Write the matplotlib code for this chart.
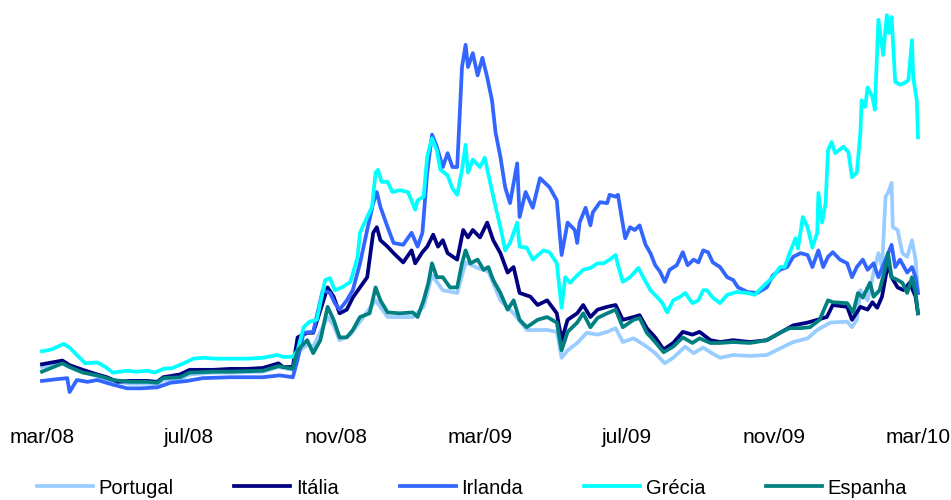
import numpy as np
import matplotlib
matplotlib.use("Agg")
import matplotlib.pyplot as plt

plt.rcParams["font.family"] = ["Liberation Sans", "DejaVu Sans"]

# Spreads (p.b.) por país; dias contados a partir de 1 de março de 2008
inicio = np.datetime64("2008-03-01")

portugal_dias = [0, 17, 23, 34, 46, 59, 73, 88, 96, 101,
                 115, 123, 143, 157, 184, 197, 209, 213, 221, 226,
                 238, 243, 248, 257, 265, 278, 288, 298, 309, 318,
                 325, 334, 346, 353, 363, 372, 382, 393, 404, 421,
                 429, 433, 438, 446, 454, 463, 471, 478, 484, 493,
                 504, 511, 519, 526, 536, 543, 551, 557, 565, 576,
                 590, 604, 618, 626, 638, 646, 657, 671, 675, 679,
                 682, 688, 693, 697, 700, 703, 705, 708, 709, 713,
                 717, 721, 725, 728, 730]
portugal = [41, 46, 42, 36, 31, 26, 23, 23, 22, 27,
            28, 33, 35, 35, 36, 41, 38, 57, 65, 63,
            95, 86, 70, 76, 90, 113, 95, 95, 95, 106,
            140, 124, 121, 154, 148, 144, 113, 99, 81, 81,
            79, 51, 59, 67, 78, 76, 79, 83, 68, 72,
            63, 56, 45, 51, 63, 56, 62, 57, 51, 54,
            53, 54, 63, 68, 72, 81, 89, 90, 84, 92,
            124, 113, 143, 164, 149, 225, 229, 240, 192, 189,
            164, 160, 178, 157, 121]

italia_dias = [0, 17, 23, 34, 46, 54, 63, 73, 88, 96,
               101, 115, 123, 143, 157, 171, 184, 197, 201, 209,
               213, 221, 226, 238, 243, 248, 254, 259, 265, 271,
               276, 279, 282, 288, 293, 301, 308, 311, 317, 321,
               326, 330, 334, 338, 346, 351, 355, 359, 365, 371,
               376, 382, 388, 393, 398, 407, 413, 421, 429, 433,
               438, 446, 451, 457, 463, 471, 478, 484, 493, 498,
               504, 511, 518, 526, 534, 542, 548, 557, 565, 576,
               590, 604, 615, 626, 638, 646, 654, 659, 671, 675,
               682, 688, 692, 696, 700, 705, 708, 713, 718, 723,
               728, 730]
italia = [44, 48, 43, 38, 33, 30, 25, 26, 26, 25,
          30, 33, 38, 38, 39, 39, 40, 45, 41, 41,
          73, 78, 78, 127, 117, 99, 103, 116, 127, 138,
          186, 192, 178, 171, 164, 154, 167, 153, 165, 171,
          184, 171, 178, 164, 157, 189, 181, 189, 181, 197,
          178, 164, 143, 149, 121, 117, 108, 113, 99, 70,
          92, 99, 108, 95, 103, 106, 108, 92, 95, 97,
          83, 73, 60, 67, 79, 76, 79, 70, 68, 70,
          68, 70, 78, 86, 89, 92, 95, 108, 106, 92,
          106, 103, 111, 105, 117, 153, 138, 127, 124, 132,
          117, 99]

irlanda_dias = [0, 13, 21, 23, 29, 38, 46, 59, 71, 82,
                96, 107, 121, 134, 157, 184, 198, 209, 213, 218,
                226, 234, 240, 244, 248, 254, 259, 265, 271, 276,
                279, 282, 288, 293, 301, 308, 313, 317, 321, 325,
                329, 334, 338, 342, 346, 350, 353, 355, 359, 363,
                367, 371, 375, 378, 382, 386, 390, 396, 398, 403,
                409, 415, 423, 429, 433, 438, 444, 446, 448, 453,
                457, 459, 465, 471, 473, 478, 480, 483, 486, 490,
                494, 498, 503, 507, 511, 515, 519, 523, 529, 534,
                538, 543, 547, 551, 555, 559, 565, 571, 576, 580,
                588, 596, 604, 609, 615, 621, 626, 632, 638, 642,
                647, 651, 655, 659, 665, 671, 675, 679, 684, 688,
                693, 697, 703, 708, 711, 715, 721, 725, 728, 730]
irlanda = [26, 28, 29, 14, 27, 25, 27, 22, 18, 18,
           19, 24, 26, 29, 30, 30, 32, 30, 49, 78,
           79, 124, 121, 110, 103, 113, 124, 153, 189, 218,
           230, 214, 192, 175, 173, 186, 171, 186, 251, 292,
           279, 257, 272, 257, 257, 365, 389, 365, 380, 356,
           375, 354, 329, 294, 268, 235, 218, 261, 203, 230,
           213, 245, 235, 221, 162, 197, 189, 175, 197, 213,
           194, 208, 219, 218, 227, 225, 227, 203, 180, 192,
           189, 194, 173, 164, 151, 144, 133, 146, 151, 165,
           151, 157, 154, 167, 165, 154, 149, 138, 135, 127,
           122, 121, 127, 140, 146, 149, 160, 164, 162, 149,
           167, 149, 160, 165, 157, 153, 138, 149, 157, 146,
           153, 138, 157, 173, 149, 157, 143, 149, 138, 121]

grecia_dias = [0, 8, 18, 23, 29, 36, 46, 53, 59, 71,
               79, 88, 94, 101, 109, 118, 126, 134, 146, 157,
               171, 184, 196, 201, 209, 213, 218, 223, 229, 236,
               240, 244, 250, 257, 263, 265, 271, 275, 278, 280,
               283, 288, 292, 298, 305, 311, 313, 318, 321, 325,
               329, 332, 338, 342, 346, 350, 353, 355, 359, 365,
               369, 373, 378, 382, 386, 390, 396, 398, 404, 409,
               418, 423, 429, 433, 436, 440, 446, 451, 457, 463,
               468, 473, 478, 480, 484, 490, 497, 501, 507, 513,
               517, 521, 526, 532, 536, 542, 547, 551, 554, 559,
               565, 571, 579, 588, 594, 600, 604, 609, 615, 619,
               623, 628, 630, 634, 638, 642, 646, 647, 650, 653,
               655, 658, 661, 668, 672, 675, 679, 682, 683, 686,
               688, 692, 694, 697, 701, 704, 706, 708, 711, 715,
               719, 722, 725, 726, 729, 730]
grecia = [58, 60, 66, 62, 54, 45, 46, 41, 35, 37,
          36, 37, 35, 39, 40, 45, 50, 51, 50, 50,
          50, 51, 54, 52, 52, 59, 84, 90, 92, 135,
          137, 124, 127, 133, 160, 186, 203, 214, 251, 254,
          241, 241, 230, 232, 230, 211, 221, 225, 268, 288,
          275, 254, 248, 234, 227, 254, 281, 251, 265, 257,
          267, 243, 214, 192, 167, 175, 197, 171, 170, 157,
          167, 165, 153, 105, 138, 132, 140, 146, 148, 153,
          153, 157, 162, 151, 133, 138, 148, 138, 124, 116,
          110, 100, 113, 117, 121, 110, 113, 124, 124, 116,
          110, 119, 122, 121, 119, 127, 132, 138, 149, 149,
          164, 180, 169, 203, 192, 170, 186, 229, 197, 218,
          275, 284, 272, 279, 273, 246, 251, 294, 329, 322,
          343, 333, 319, 416, 378, 421, 402, 419, 349, 346,
          348, 351, 394, 354, 329, 289]

espanha_dias = [0, 17, 23, 34, 46, 59, 73, 88, 96, 101,
                115, 123, 143, 157, 184, 197, 209, 213, 221, 226,
                232, 238, 243, 248, 254, 259, 265, 273, 278, 282,
                288, 298, 309, 313, 318, 322, 325, 329, 334, 340,
                346, 350, 353, 357, 363, 368, 372, 376, 382, 388,
                393, 398, 404, 413, 421, 429, 433, 438, 446, 451,
                457, 463, 471, 478, 484, 493, 498, 504, 511, 518,
                526, 534, 542, 548, 557, 565, 576, 590, 604, 615,
                623, 632, 640, 648, 655, 659, 671, 676, 680, 684,
                690, 693, 698, 703, 705, 708, 713, 717, 721, 725,
                728, 730]
espanha = [36, 45, 41, 35, 32, 27, 25, 25, 24, 29,
           30, 35, 36, 36, 37, 42, 39, 59, 70, 56,
           70, 106, 92, 73, 73, 81, 95, 99, 127, 113,
           100, 99, 100, 95, 113, 132, 153, 138, 138, 127,
           127, 153, 167, 153, 157, 146, 149, 135, 121, 103,
           113, 92, 84, 92, 95, 89, 59, 79, 89, 99,
           84, 94, 99, 103, 84, 92, 94, 78, 68, 57,
           63, 73, 67, 72, 67, 67, 68, 67, 70, 78,
           83, 83, 84, 92, 113, 111, 110, 100, 121, 116,
           132, 117, 124, 149, 164, 138, 135, 132, 121, 138,
           121, 99]

rotulos_x = ["mar/08", "jul/08", "nov/08", "mar/09", "jul/09", "nov/09", "mar/10"]
datas_x = ["2008-03-01", "2008-07-01", "2008-11-01", "2009-03-01",
           "2009-07-01", "2009-11-01", "2010-03-01"]

series = [
    ("Portugal", portugal_dias, portugal, "#99CCFF"),
    ("Itália", italia_dias, italia, "#000080"),
    ("Irlanda", irlanda_dias, irlanda, "#3366FF"),
    ("Grécia", grecia_dias, grecia, "#00FFFF"),
    ("Espanha", espanha_dias, espanha, "#008080"),
]


def para_datas(dias):
    return inicio + np.array(dias, dtype="timedelta64[D]")


fig = plt.figure(figsize=(9.51, 5.0), dpi=100)
ax = fig.add_axes([42 / 951, 0.19, 876 / 951, 0.80])

for nome, dias, valores, cor in series:
    ax.plot(para_datas(dias), valores, color=cor, lw=2.7, label=nome,
            solid_joinstyle="round", clip_on=False)

ax.set_xlim(np.datetime64("2008-03-01"), np.datetime64("2010-03-01"))
ax.set_ylim(0, 432)
ax.set_xticks(np.array(datas_x, dtype="datetime64[D]"))
ax.set_xticklabels(rotulos_x, fontsize=15)
ax.tick_params(axis="x", length=0, pad=16.5)
ax.set_yticks([])
for s in ax.spines.values():
    s.set_visible(False)

fig.legend(loc="center", bbox_to_anchor=(472 / 951, 1 - 488 / 500), ncol=5,
           frameon=False, fontsize=14.5, handlelength=2.78, handletextpad=0.3,
           columnspacing=3.0, borderpad=0, borderaxespad=0)

fig.savefig("out.png", dpi=100)
